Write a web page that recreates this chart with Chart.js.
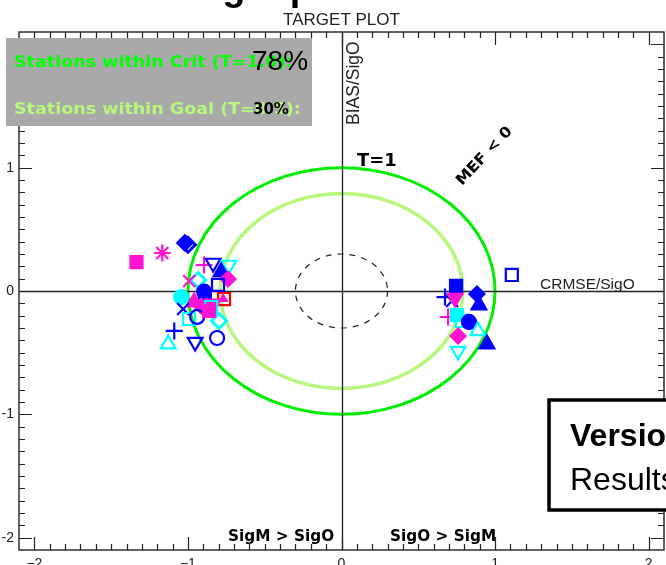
<!DOCTYPE html>
<html>
<head>
<meta charset="utf-8">
<script src="https://cdn.jsdelivr.net/npm/chart.js@4/dist/chart.umd.min.js"></script>
<style>
  html, body { margin: 0; padding: 0; background: #ffffff; overflow: hidden; }
  #wrap { position: relative; width: 666px; height: 565px; }
</style>
</head>
<body>
<div id="wrap"><canvas id="target" width="666" height="565"></canvas></div>
<script>
// ---- Data -------------------------------------------------------------
// Axis ticks (normalised units)
const xTickValues = [-2, -1, 0, 1, 2];
const yTickValues = [-2, -1, 0, 1, 2];
const axisMin = -2.1, axisMax = 2.1;

// Target circles (radius in normalised units)
const critRadius = 1.0;
const goalRadius = 0.79;
const innerRadius = 0.3;

// Share of stations inside the criteria / goal circles (%)
const pctWithinCrit = 78;
const pctWithinGoal = 30;

// Station statistics: x = signed CRMSE/SigO, y = BIAS/SigO
const stationX = [
  -1.335, -1.167, -1.02, -1.00, -0.895, -0.836, -0.733, -0.934, -0.992, -0.784,
  -0.739, -0.804, -1.044, -0.895, -0.89, -0.765, -0.77, -0.914, -0.836, -0.96,
  -1.031, -0.992, -0.94, -0.797, -0.849, -0.862, -1.089, -1.128, -0.953, -0.81,
   1.109,  0.746,  0.674,  0.72,  0.739,  0.882,  0.895,  0.694,  0.752,  0.784,
   0.83,   0.888,  0.759,  0.947,  0.759
];
const stationY = [
   0.235,  0.308,  0.39,   0.375,  0.211,  0.227,  0.211,  0.089,  0.081,  0.154,
   0.097,  0.049, -0.049, -0.005, -0.07,  -0.065, -0.065, -0.122, -0.105, -0.09,
  -0.146, -0.227, -0.21,  -0.243, -0.13,  -0.162, -0.324, -0.43,  -0.414, -0.381,
   0.13,   0.041, -0.049, -0.081, -0.057, -0.024, -0.114, -0.211, -0.195, -0.243,
  -0.251, -0.324, -0.365, -0.43,  -0.487
];
// Station class (colour) and station symbol, one entry per station
const stationClass = [
  'm','m','b','b','m','b','c','c','m','b',
  'm','b','c','b','b','r','m','m','m','m',
  'b','c','b','c','c','m','b','c','b','b',
  'b','b','b','b','m','b','b','m','c','c',
  'b','c','m','b','c'
];
const stationSymbol = [
  'sqF','star','dmF','dmO','plus','triDO','triDO','dmO','xcross','triUF',
  'dmF','sqO','circF','circF','sqF','sqO','triUS','dmF','triDF','triUF',
  'xcross','sqO','circO','dmO','sqO','sqF','plus','triUO','triDO','circO',
  'sqO','sqF','plus','xcross','triDF','dmF','triUF','plus','sqF','sqO',
  'circF','triUO','dmF','triUF','triDO'
];

// ---- Styling -----------------------------------------------------------
const CLASS_COLOUR = { b: '#0000ff', m: '#ff14d2', c: '#00ffff', r: '#ff0000' };
const SYMBOLS = {
  sqF:    { style: 'rect',     fill: true,  r: 8.5, rot: 0 },
  sqO:    { style: 'rect',     fill: false, r: 8.5, rot: 0 },
  dmF:    { style: 'rectRot',  fill: true,  r: 7.5, rot: 0 },
  dmO:    { style: 'rectRot',  fill: false, r: 7.5, rot: 0 },
  circF:  { style: 'circle',   fill: true,  r: 7,   rot: 0 },
  circO:  { style: 'circle',   fill: false, r: 7,   rot: 0 },
  triUF:  { style: 'triangle', fill: true,  r: 8.5, rot: 0 },
  triUO:  { style: 'triangle', fill: false, r: 8.5, rot: 0 },
  triUS:  { style: 'triangle', fill: true,  r: 4,   rot: 0 },
  triDF:  { style: 'triangle', fill: true,  r: 8.5, rot: 180 },
  triDO:  { style: 'triangle', fill: false, r: 8.5, rot: 180 },
  plus:   { style: 'cross',    fill: false, r: 8.5, rot: 0 },
  xcross: { style: 'crossRot', fill: false, r: 8.5, rot: 0 },
  star:   { style: 'star',     fill: false, r: 8.5, rot: 0 }
};

const GREEN = '#00ee00';
const LIGHT_GREEN = '#b6f77c';
const AXIS_INK = '#222222';

const points = stationX.map((x, i) => ({ x: x, y: stationY[i] }));
const sym = stationSymbol.map(s => SYMBOLS[s]);
const col = stationClass.map(c => CLASS_COLOUR[c]);

// wide, heavy lettering used for the in-plot annotations
function wideText(ctx, text, x, y, px, stretch) {
  ctx.save();
  ctx.translate(x, y);
  ctx.scale(stretch, 1);
  ctx.font = 'bold ' + px + 'px "DejaVu Sans", sans-serif';
  ctx.fillText(text, 0, 0);
  ctx.restore();
}

// ---- Frame, ticks and target circles (drawn under the markers) ---------
const underlay = {
  id: 'underlay',
  beforeDatasetsDraw(chart) {
    const ctx = chart.ctx;
    const xs = chart.scales.x, ys = chart.scales.y;
    const a = chart.chartArea;
    const x0 = xs.getPixelForValue(0), y0 = ys.getPixelForValue(0);
    ctx.save();

    // heading above the plot (mostly above the page edge)
    ctx.fillStyle = '#000';
    ctx.font = 'bold 38px "Liberation Sans", Arial, sans-serif';
    ctx.textAlign = 'left';
    ctx.textBaseline = 'alphabetic';
    ctx.fillText('Target plot', 166, 0);

    ctx.font = '17px "Liberation Sans", Arial, sans-serif';
    ctx.fillStyle = '#222';
    ctx.textAlign = 'center';
    ctx.fillText('TARGET PLOT', x0, 25);

    // frame
    ctx.strokeStyle = AXIS_INK;
    ctx.lineWidth = 1.4;
    ctx.strokeRect(a.left, a.top, a.right - a.left, a.bottom - a.top);

    // inward ticks on all four sides, minor every 0.1
    ctx.lineWidth = 1.2;
    ctx.beginPath();
    for (let i = -20; i <= 20; i++) {
      const v = i / 10;
      const major = i % 10 === 0;
      const len = major ? 13 : 6;
      const px = Math.round(xs.getPixelForValue(v)) + 0.5;
      ctx.moveTo(px, a.bottom); ctx.lineTo(px, a.bottom - len);
      ctx.moveTo(px, a.top);    ctx.lineTo(px, a.top + len);
      const py = Math.round(ys.getPixelForValue(v)) + 0.5;
      ctx.moveTo(a.left, py);  ctx.lineTo(a.left + len, py);
      ctx.moveTo(a.right, py); ctx.lineTo(a.right - len, py);
    }
    ctx.stroke();

    // tick labels
    ctx.fillStyle = '#222';
    ctx.font = '14px "Liberation Sans", Arial, sans-serif';
    ctx.textAlign = 'right';
    ctx.textBaseline = 'middle';
    yTickValues.forEach(v => ctx.fillText(v < 0 ? '-' + Math.abs(v) : String(v), 14, ys.getPixelForValue(v)));
    ctx.textAlign = 'center';
    ctx.textBaseline = 'top';
    xTickValues.forEach(v => ctx.fillText(v < 0 ? '\u2212' + Math.abs(v) : String(v), xs.getPixelForValue(v), 557));

    // target circles
    const ring = (r) => {
      const rx = xs.getPixelForValue(r) - x0;
      const ry = y0 - ys.getPixelForValue(r);
      ctx.beginPath();
      ctx.ellipse(x0, y0, rx, ry, 0, 0, Math.PI * 2);
      ctx.stroke();
    };
    ctx.lineWidth = 3;
    ctx.strokeStyle = GREEN;
    ring(critRadius);
    ctx.lineWidth = 3.5;
    ctx.strokeStyle = LIGHT_GREEN;
    ring(goalRadius);
    ctx.lineWidth = 1.2;
    ctx.strokeStyle = '#222';
    ctx.setLineDash([6, 6]);
    ring(innerRadius);
    ctx.setLineDash([]);

    // zero axes
    ctx.lineWidth = 1.3;
    ctx.strokeStyle = AXIS_INK;
    ctx.beginPath();
    ctx.moveTo(Math.round(x0) + 0.5, a.top); ctx.lineTo(Math.round(x0) + 0.5, a.bottom);
    ctx.moveTo(a.left, Math.round(y0) + 0.5); ctx.lineTo(a.right, Math.round(y0) + 0.5);
    ctx.stroke();

    // axis names
    ctx.fillStyle = '#222';
    ctx.font = '15.5px "Liberation Sans", Arial, sans-serif';
    ctx.textAlign = 'left';
    ctx.textBaseline = 'alphabetic';
    ctx.fillText('CRMSE/SigO', 540, 289);
    ctx.save();
    ctx.translate(x0 + 17, 125);
    ctx.rotate(-Math.PI / 2);
    ctx.font = '17.5px "Liberation Sans", Arial, sans-serif';
    ctx.fillText('BIAS/SigO', 0, 0);
    ctx.restore();

    // annotations inside the plot
    ctx.fillStyle = '#000';
    wideText(ctx, 'T=1', 357, 166, 17, 1.05);
    ctx.save();
    ctx.translate(462, 186);
    ctx.rotate(-Math.PI * 0.26);
    wideText(ctx, 'MEF < 0', 0, 0, 15, 1.08);
    ctx.restore();
    wideText(ctx, 'SigM > SigO', 228, 541, 15, 1.02);
    wideText(ctx, 'SigO > SigM', 390, 541, 15, 1.02);

    ctx.restore();
  },
  afterDatasetsDraw(chart) {
    const ctx = chart.ctx;
    ctx.save();
    // summary box
    ctx.fillStyle = '#a9a9a9';
    ctx.fillRect(6, 38, 306, 88);
    ctx.textAlign = 'left';
    ctx.textBaseline = 'alphabetic';
    ctx.fillStyle = '#00ff00';
    wideText(ctx, 'Stations within Crit (T=1.0):', 14, 67, 15.5, 1.13);
    ctx.fillStyle = LIGHT_GREEN;
    wideText(ctx, 'Stations within Goal (T=0.5):', 14, 114, 15.5, 1.13);
    ctx.fillStyle = '#000';
    ctx.font = '28px "Liberation Sans", Arial, sans-serif';
    ctx.fillText(pctWithinCrit + '%', 252, 70);
    ctx.font = 'bold 15px "DejaVu Sans", sans-serif';
    ctx.fillText(pctWithinGoal + '%', 253, 114);

    // version box
    ctx.fillStyle = '#fff';
    ctx.fillRect(549, 400, 130, 110);
    ctx.strokeStyle = '#000';
    ctx.lineWidth = 3.5;
    ctx.strokeRect(549, 400, 130, 110);
    ctx.fillStyle = '#000';
    ctx.font = 'bold 32px "Liberation Sans", Arial, sans-serif';
    ctx.fillText('Version', 570, 446);
    ctx.font = '32px "Liberation Sans", Arial, sans-serif';
    ctx.fillText('Results', 570, 490);
    ctx.restore();
  }
};

new Chart(document.getElementById('target'), {
  type: 'scatter',
  data: {
    datasets: [{
      label: 'stations',
      data: points,
      showLine: false,
      pointStyle: sym.map(s => s.style),
      pointRotation: sym.map(s => s.rot),
      pointRadius: sym.map(s => s.r),
      pointBorderWidth: sym.map(s => (s.style === 'rectRot' && !s.fill) ? 3 : 2.2),
      pointBorderColor: col,
      pointBackgroundColor: sym.map((s, i) => s.fill ? col[i] : 'rgba(0,0,0,0)')
    }]
  },
  options: {
    responsive: false,
    animation: false,
    events: [],
    layout: { autoPadding: false, padding: { left: 19, right: 2, top: 32, bottom: 15 } },
    scales: {
      x: { type: 'linear', min: axisMin, max: axisMax, display: false },
      y: { type: 'linear', min: axisMin, max: axisMax, display: false }
    },
    plugins: { legend: { display: false }, tooltip: { enabled: false } }
  },
  plugins: [underlay]
});
</script>
</body>
</html>
